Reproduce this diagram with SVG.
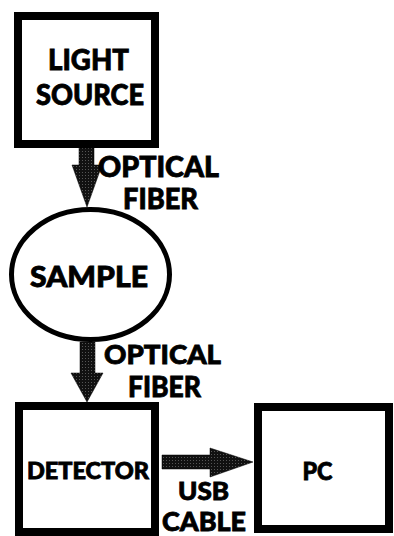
<svg xmlns="http://www.w3.org/2000/svg" width="394" height="536" viewBox="0 0 394 536">
<defs>
<pattern id="dots" width="3" height="3" patternUnits="userSpaceOnUse">
<rect width="3" height="3" fill="#111"/>
<rect x="1" y="1" width="1" height="1" fill="#555"/>
</pattern>
<style>
.box{fill:#fff;stroke:#000;stroke-width:8}
.ell{fill:#fff;stroke:#000;stroke-width:5}
.t{font-family:Lato,"Liberation Sans",sans-serif;font-weight:900;fill:#000;stroke:#000;stroke-width:0.8;text-anchor:middle}
.arr{fill:url(#dots);stroke:#000;stroke-width:0.5}
</style>
</defs>
<rect width="394" height="536" fill="#fff"/>
<g id="connectors">
<path class="arr" d="M79,148 H94 V165 H102 L87,207 L72,165 H79 Z"/>
<path class="arr" d="M80,342 H95 V373 H103 L87,402 L71,373 H80 Z"/>
<path class="arr" d="M162,455 H210 V448 L253,462 L210,477 V469 H162 Z"/>
<text class="t" x="158.5" y="177" font-size="28" textLength="121" lengthAdjust="spacingAndGlyphs">OPTICAL</text>
<text class="t" x="160.5" y="209" font-size="28" textLength="75" lengthAdjust="spacingAndGlyphs">FIBER</text>
<text class="t" x="162.5" y="364" font-size="27" textLength="117" lengthAdjust="spacingAndGlyphs">OPTICAL</text>
<text class="t" x="164.5" y="397" font-size="28" textLength="73" lengthAdjust="spacingAndGlyphs">FIBER</text>
<text class="t" x="203.5" y="500" font-size="24" textLength="51" lengthAdjust="spacingAndGlyphs">USB</text>
<text class="t" x="204" y="531" font-size="26" textLength="84" lengthAdjust="spacingAndGlyphs">CABLE</text>
</g>
<g id="light-source">
<rect class="box" x="18" y="16" width="137" height="128"/>
<text class="t" x="88.5" y="70" font-size="29" textLength="81" lengthAdjust="spacingAndGlyphs">LIGHT</text>
<text class="t" x="90" y="105" font-size="28" textLength="108" lengthAdjust="spacingAndGlyphs">SOURCE</text>
</g>
<g id="sample">
<ellipse class="ell" cx="90.5" cy="274.5" rx="79" ry="65"/>
<text class="t" x="89" y="287" font-size="28" textLength="118" lengthAdjust="spacingAndGlyphs">SAMPLE</text>
</g>
<g id="detector">
<rect class="box" x="19" y="406" width="136" height="126"/>
<text class="t" x="88" y="479" font-size="22" textLength="122" lengthAdjust="spacingAndGlyphs">DETECTOR</text>
</g>
<g id="pc">
<rect class="box" x="258" y="407" width="131" height="122"/>
<text class="t" x="317.5" y="480" font-size="25" textLength="30" lengthAdjust="spacingAndGlyphs">PC</text>
</g>
</svg>
